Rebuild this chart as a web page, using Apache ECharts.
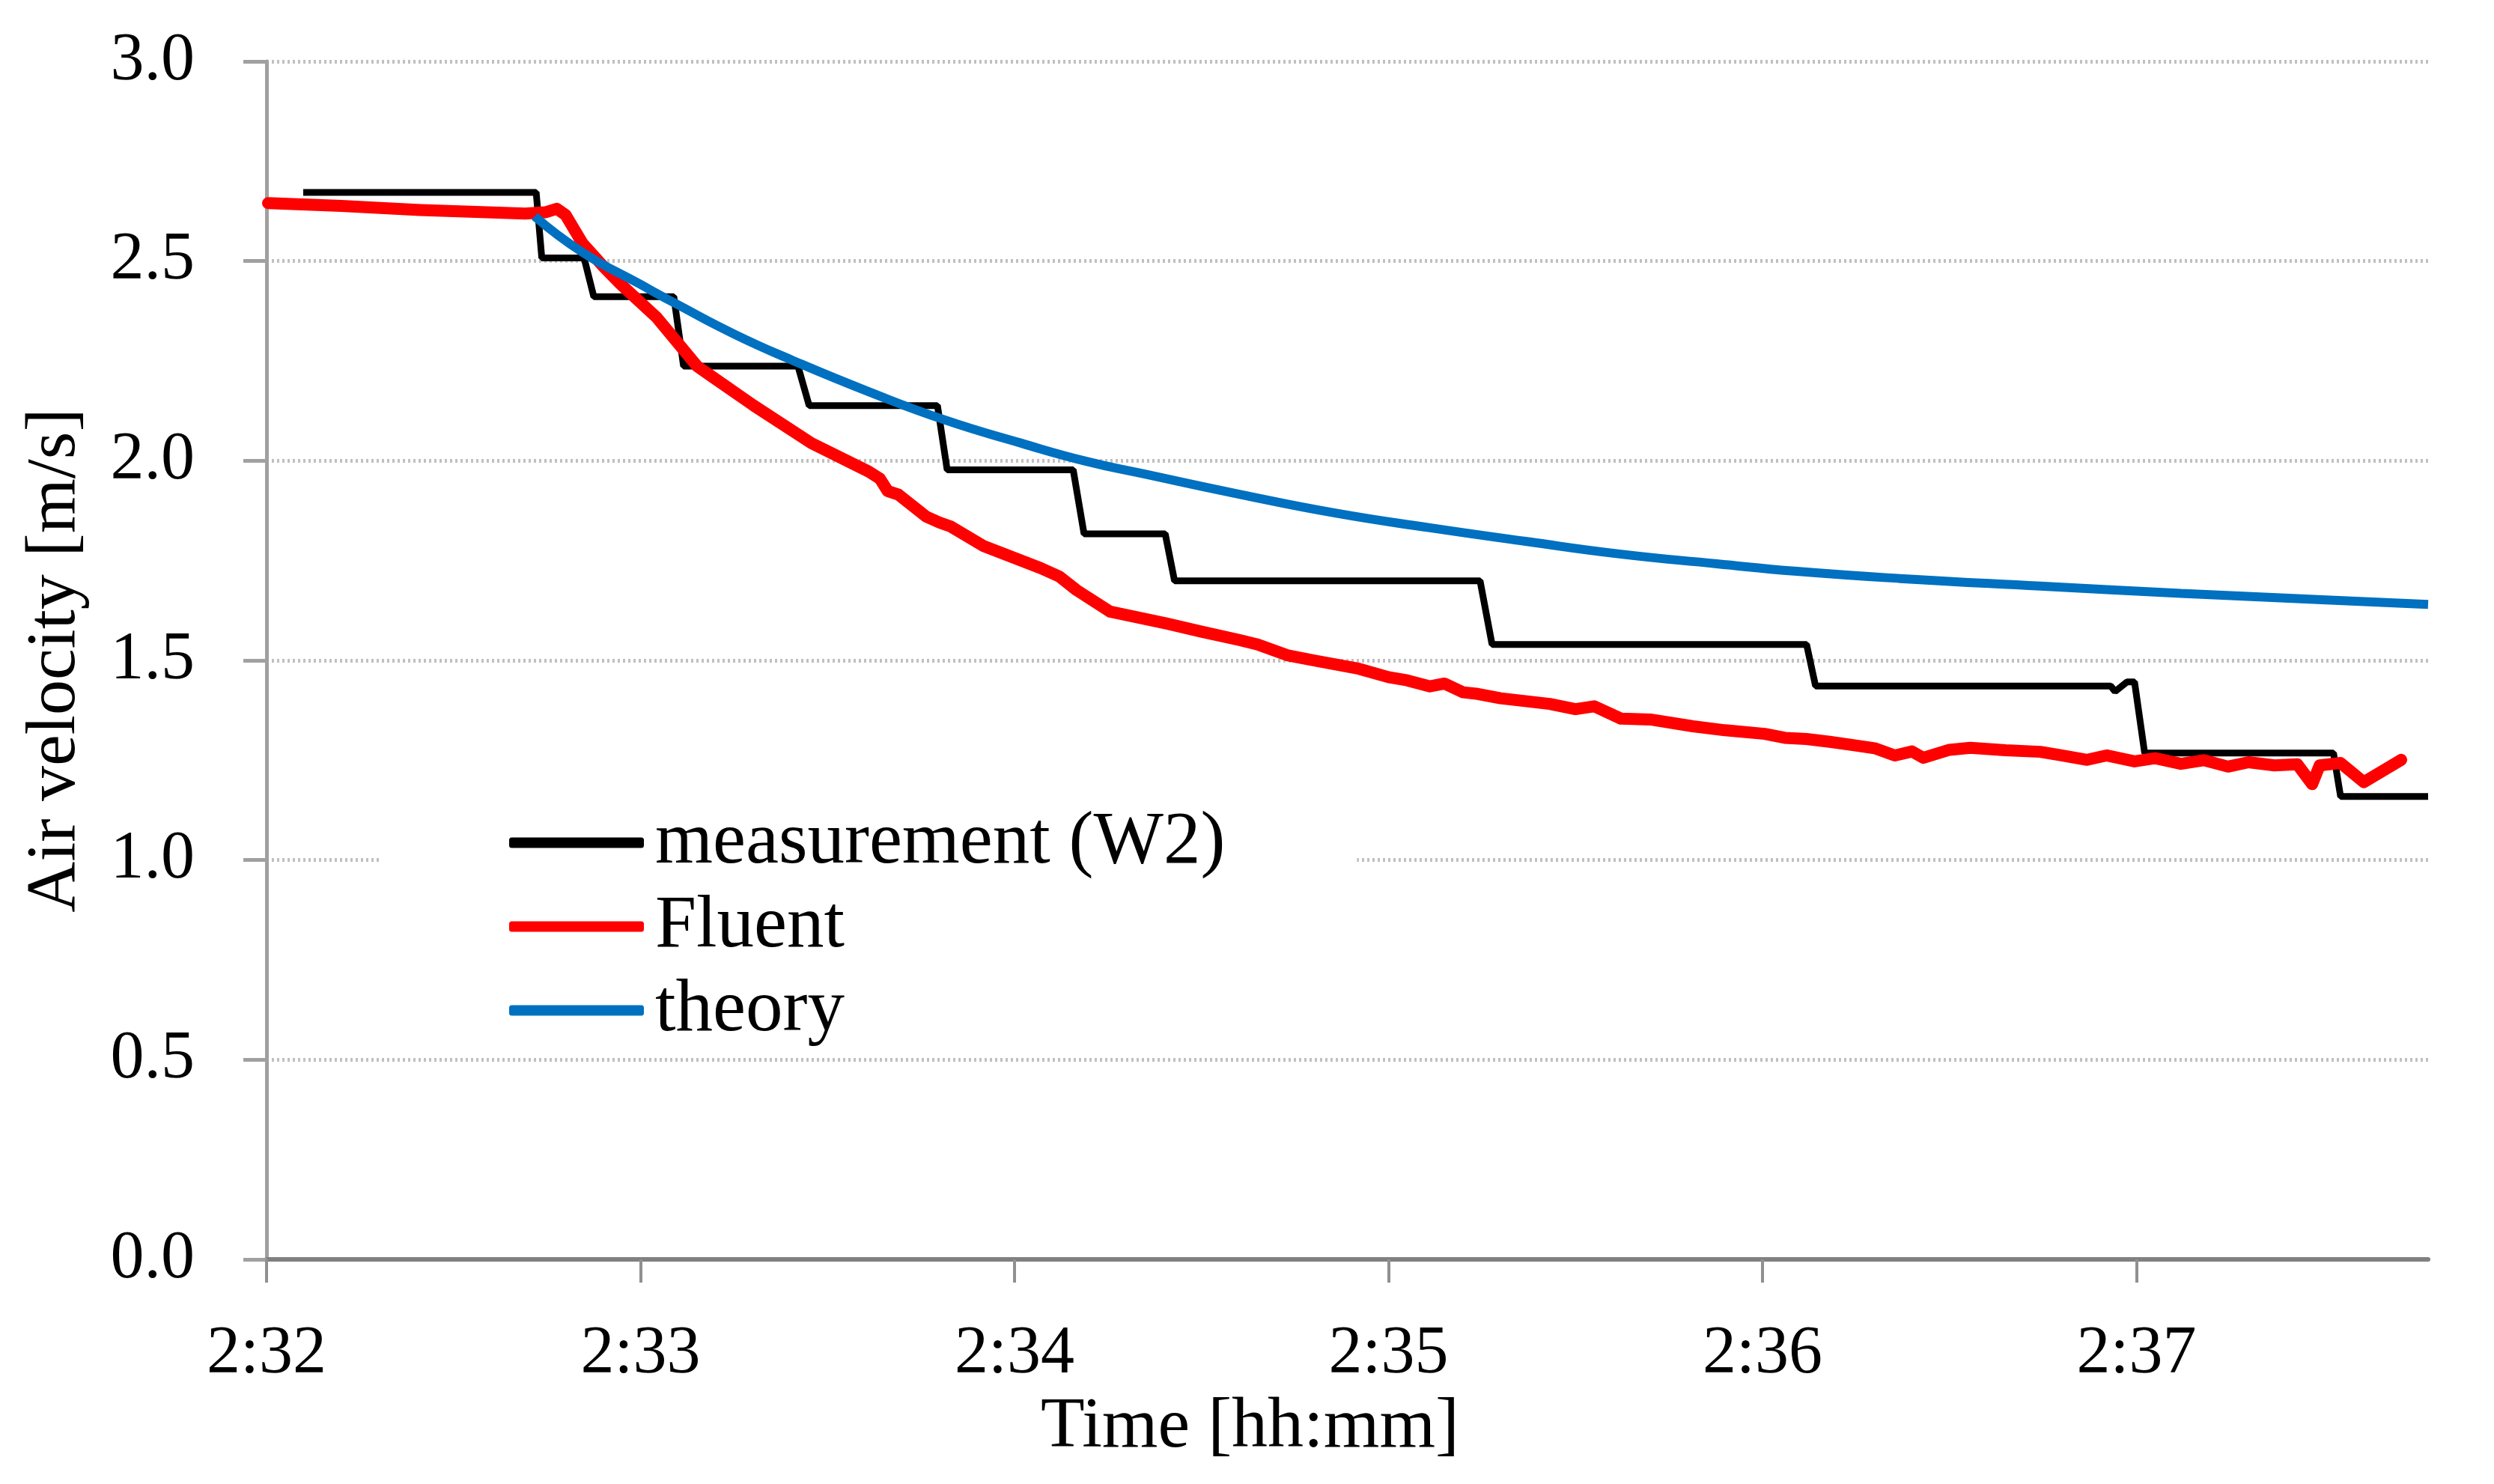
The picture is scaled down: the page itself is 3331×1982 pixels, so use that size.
<!DOCTYPE html>
<html>
<head>
<meta charset="utf-8">
<script src="https://cdn.jsdelivr.net/npm/echarts@6/dist/echarts.min.js"></script>
<style>
html,body{margin:0;padding:0;background:#fff;}
#chart{width:3331px;height:1982px;}
</style>
</head>
<body>
<div id="chart"></div>
<script>
// x values: minutes past 2:00 (e.g. 32.5 = 2:32:30)
const xTickValues = [32, 33, 34, 35, 36, 37];
const yTickStep = 0.5;
const seriesNames = ['measurement (W2)', 'Fluent', 'theory'];

const measurement = [
  [32.098,2.672],[32.721,2.672],[32.736,2.508],[32.849,2.508],[32.875,2.411],[33.089,2.411],
  [33.115,2.237],[33.421,2.237],[33.451,2.138],[33.794,2.138],[33.820,1.977],[34.157,1.977],
  [34.186,1.817],[34.403,1.817],[34.428,1.699],[35.245,1.699],[35.277,1.540],[36.118,1.540],
  [36.142,1.436],[36.931,1.436],[36.943,1.422],[36.975,1.446],[36.995,1.446],[37.022,1.268],
  [37.527,1.268],[37.546,1.159],[37.78,1.159]
];

const fluent = [
  [32.004,2.645],[32.20,2.638],[32.41,2.628],[32.589,2.622],[32.692,2.619],[32.745,2.622],
  [32.776,2.631],[32.80,2.615],[32.845,2.544],[32.902,2.485],[32.946,2.443],[33.043,2.359],
  [33.151,2.237],[33.183,2.216],[33.303,2.138],[33.457,2.044],[33.610,1.973],[33.640,1.955],
  [33.661,1.924],[33.690,1.915],[33.764,1.860],[33.80,1.845],[33.83,1.835],[33.916,1.787],
  [34.070,1.731],[34.12,1.710],[34.166,1.676],[34.256,1.622],[34.408,1.592],[34.50,1.572],
  [34.601,1.551],[34.65,1.540],[34.729,1.513],[34.80,1.500],[34.921,1.479],[35.0,1.458],
  [35.05,1.450],[35.111,1.435],[35.15,1.442],[35.20,1.420],[35.239,1.416],[35.30,1.405],
  [35.431,1.391],[35.5,1.378],[35.55,1.385],[35.622,1.354],[35.70,1.352],[35.814,1.335],
  [35.90,1.325],[36.006,1.316],[36.06,1.306],[36.118,1.303],[36.18,1.296],[36.242,1.288],
  [36.30,1.280],[36.354,1.262],[36.40,1.272],[36.43,1.256],[36.50,1.276],[36.556,1.281],
  [36.65,1.275],[36.743,1.271],[36.80,1.262],[36.868,1.251],[36.92,1.262],[36.995,1.247],
  [37.05,1.255],[37.119,1.241],[37.18,1.250],[37.245,1.234],[37.30,1.245],[37.369,1.237],
  [37.43,1.240],[37.470,1.190],[37.49,1.237],[37.546,1.243],[37.608,1.195],[37.708,1.251]
];

const theory = [
  [32.717,2.612],[32.845,2.522],[32.997,2.443],[33.099,2.391],[33.253,2.316],[33.405,2.252],
  [33.610,2.173],[33.814,2.102],[34.018,2.044],[34.190,1.999],[34.346,1.967],[34.601,1.916],
  [34.857,1.869],[35.111,1.832],[35.367,1.798],[35.622,1.766],[35.878,1.742],[36.092,1.723],
  [36.368,1.705],[36.743,1.686],[37.119,1.668],[37.496,1.652],[37.78,1.640]
];

const FONT = 'Liberation Serif';
const chart = echarts.init(document.getElementById('chart'));
chart.setOption({
  animation: false,
  backgroundColor: '#fff',
  grid: { left: 356, right: 88, top: 82, bottom: 300, containLabel: false },
  legend: {
    data: seriesNames,
    orient: 'vertical',
    left: 510, top: 1036,
    padding: [40, 176, 5, 170],
    backgroundColor: '#fff',
    itemWidth: 180, itemHeight: 14, itemGap: 13,
    icon: 'roundRect',
    textStyle: { fontFamily: FONT, fontSize: 99, color: '#000', padding: [0, 0, 0, 10] }
  },
  xAxis: {
    type: 'value',
    min: 32, max: 37.78, interval: 1,
    name: 'Time [hh:mm]',
    nameLocation: 'middle', nameGap: 166,
    nameTextStyle: { fontFamily: FONT, fontSize: 96, color: '#000', padding: [0, 260, 0, 0] },
    axisLine: { show: true, onZero: false, lineStyle: { color: '#808080', width: 6 } },
    axisTick: { show: true, inside: false, length: 31, customValues: xTickValues,
                lineStyle: { color: '#909090', width: 4 } },
    axisLabel: { margin: 82, fontFamily: FONT, fontSize: 90, color: '#000',
                 customValues: xTickValues,
                 formatter: v => '2:' + Math.round(v) },
    splitLine: { show: false }
  },
  yAxis: {
    type: 'value',
    min: 0, max: 3, interval: yTickStep,
    name: 'Air velocity [m/s]',
    nameLocation: 'middle', nameGap: 235,
    nameTextStyle: { fontFamily: FONT, fontSize: 94, color: '#000' },
    axisLine: { show: true, lineStyle: { color: '#a0a0a0', width: 5 } },
    axisTick: { show: true, inside: false, length: 31, lineStyle: { color: '#a0a0a0', width: 5 } },
    axisLabel: { margin: 96, fontFamily: FONT, fontSize: 90, color: '#000',
                 formatter: v => v.toFixed(1) },
    splitLine: { show: true, lineStyle: { color: '#c0c0c0', width: 5, type: [3, 4] } }
  },
  series: [
    { name: seriesNames[0], type: 'line', data: measurement, showSymbol: false,
      color: '#000000', lineStyle: { color: '#000000', width: 9 }, z: 2 },
    { name: seriesNames[1], type: 'line', data: fluent, showSymbol: false,
      color: '#ff0000', lineStyle: { color: '#ff0000', width: 16, cap: 'round', join: 'round' }, z: 3 },
    { name: seriesNames[2], type: 'line', data: theory, showSymbol: false, smooth: true,
      color: '#0070c0', lineStyle: { color: '#0070c0', width: 12 }, z: 4 }
  ]
});
</script>
</body>
</html>
